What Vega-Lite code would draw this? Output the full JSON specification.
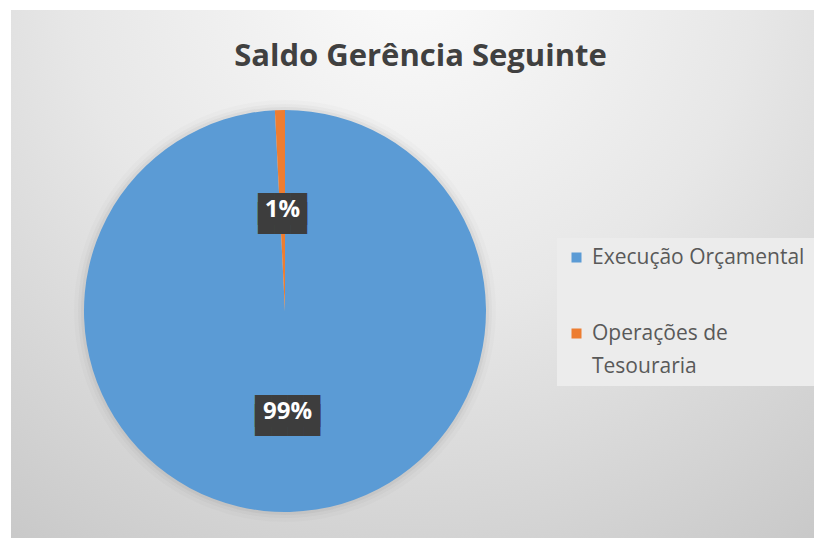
{
  "$schema": "https://vega.github.io/schema/vega-lite/v6.json",
  "width": 814,
  "height": 538,
  "autosize": {"type": "fit", "contains": "padding"},
  "padding": {"left": 11, "top": 10, "right": 0, "bottom": 0},
  "background": "#ffffff",
  "title": {
    "text": "Saldo Gerência Seguinte",
    "anchor": "middle",
    "orient": "top",
    "frame": "group",
    "offset": -87,
    "baseline": "alphabetic",
    "dx": 8,
    "font": "Open Sans",
    "fontSize": 31,
    "fontWeight": "bold",
    "color": "#404040"
  },
  "config": {
    "view": {"stroke": null},
    "style": {"guide-label": {"lineHeight": 33}}
  },
  "datasets": {
    "fatias": [
      {"categoria": "Execução Orçamental", "valor": 99.2, "rotulo": "99%"},
      {"categoria": "Operações de Tesouraria", "valor": 0.8, "rotulo": "1%"}
    ],
    "fundo": [{"id": 1}]
  },
  "layer": [
    {
      "data": {"name": "fundo"},
      "mark": {
        "type": "rect",
        "fill": {
          "gradient": "radial",
          "x1": 0.5, "y1": 0.12, "r1": 0,
          "x2": 0.5, "y2": 0.12, "r2": 0.95,
          "stops": [
            {"offset": 0, "color": "#fbfbfb"},
            {"offset": 0.45, "color": "#e7e7e7"},
            {"offset": 1, "color": "#c3c3c3"}
          ]
        }
      },
      "encoding": {}
    },
    {
      "data": {"name": "fundo"},
      "mark": {"type": "arc", "theta": 6.2832, "radius": 211, "fill": "#000000", "fillOpacity": 0.015, "x": {"expr": "width*0.3412"}, "y": {"expr": "height*0.5701"}},
      "encoding": {}
    },
    {
      "data": {"name": "fundo"},
      "mark": {"type": "arc", "theta": 6.2832, "radius": 207, "fill": "#000000", "fillOpacity": 0.025, "x": {"expr": "width*0.3412"}, "y": {"expr": "height*0.5701"}},
      "encoding": {}
    },
    {
      "data": {"name": "fundo"},
      "mark": {"type": "arc", "theta": 6.2832, "radius": 204, "fill": "#000000", "fillOpacity": 0.035, "x": {"expr": "width*0.3412"}, "y": {"expr": "height*0.5701"}},
      "encoding": {}
    },
    {
      "data": {"name": "fatias"},
      "mark": {"type": "arc", "radius": 201, "x": {"expr": "width*0.3412"}, "y": {"expr": "height*0.5701"}},
      "encoding": {
        "theta": {"field": "valor", "type": "quantitative", "stack": true},
        "color": {
          "field": "categoria",
          "type": "nominal",
          "scale": {
            "domain": ["Execução Orçamental", "Operações de Tesouraria"],
            "range": ["#5b9bd5", "#ed7d31"]
          },
          "legend": {
            "title": null,
            "orient": "none",
            "legendX": 546,
            "legendY": 228,
            "fillColor": "#ececec",
            "padding": 9,
            "symbolType": "square",
            "symbolSize": 100,
            "symbolStrokeWidth": 0,
            "labelFont": "Open Sans",
            "labelFontSize": 21,
            "labelColor": "#595959",
            "labelOffset": 5,
            "labelLimit": 400,
            "rowPadding": 54,
            "labelExpr": "datum.label == 'Operações de Tesouraria' ? ['Operações de', 'Tesouraria'] : datum.label"
          }
        }
      }
    },
    {
      "data": {"name": "fatias"},
      "mark": {"type": "text", "radius": 101, "x": {"expr": "width*0.3412"}, "y": {"expr": "height*0.5701"}, "font": "DejaVu Sans Mono", "fontSize": 27, "lineHeight": 9, "color": "#3d3d3d", "baseline": "middle", "align": "center"},
      "encoding": {
        "theta": {"field": "valor", "type": "quantitative", "stack": true},
        "order": {"field": "categoria"},
        "text": {"condition": {"test": "datum.rotulo == '99%'", "value": ["████", "████"]}, "value": ["███", "███"]}
      }
    },
    {
      "data": {"name": "fatias"},
      "mark": {"type": "text", "radius": 101, "x": {"expr": "width*0.3412"}, "y": {"expr": "height*0.5701"}, "font": "Open Sans", "fontSize": 24, "fontWeight": "bold", "color": "#ffffff", "baseline": "middle", "align": "center"},
      "encoding": {
        "theta": {"field": "valor", "type": "quantitative", "stack": true},
        "order": {"field": "categoria"},
        "text": {"field": "rotulo"}
      }
    }
  ]
}
